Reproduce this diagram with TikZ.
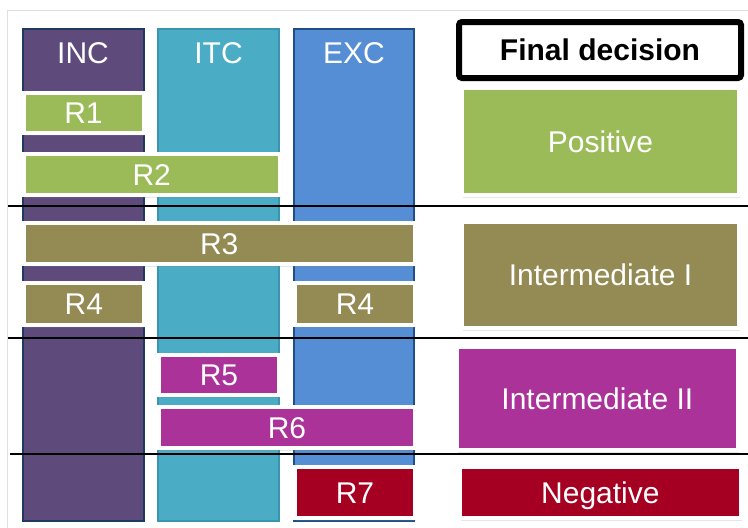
\documentclass[tikz,border=0pt]{standalone}
\usepackage{fontspec}
\setmainfont{Liberation Sans}
\usepackage{tikz}
\usetikzlibrary{shadows}

\definecolor{incfill}{HTML}{5F4B7B}
\definecolor{incedge}{HTML}{1F3A60}
\definecolor{itcfill}{HTML}{4BACC6}
\definecolor{itcedge}{HTML}{3A95AE}
\definecolor{excfill}{HTML}{558ED5}
\definecolor{excedge}{HTML}{1F4E89}
\definecolor{posgreen}{HTML}{9BBB59}
\definecolor{midolive}{HTML}{948A54}
\definecolor{midpink}{HTML}{AA3299}
\definecolor{negred}{HTML}{A50021}

\begin{document}
\begin{tikzpicture}[
    x=1pt, y=-1pt,
    column/.style={
        rectangle,
        line width=2pt,
        anchor=north west,
        inner sep=0pt,
        minimum height=492pt
    },
    colhead/.style={
        anchor=base,
        text=white,
        font=\fontsize{30pt}{32pt}\selectfont
    },
    rbox/.style={
        rectangle,
        draw=white,
        line width=4pt,
        anchor=north west,
        inner sep=0pt,
        text=white,
        text height=21.5pt,
        text depth=0pt,
        font=\fontsize{30pt}{32pt}\selectfont,
        drop shadow={shadow xshift=1pt, shadow yshift=-3pt, opacity=0.2}
    },
    divider/.style={
        line width=2.5pt,
        black
    }
]

% Frame
\useasboundingbox (0,0) rectangle (748,528);
\draw[gray!25, line width=1pt] (7,528) -- (7,10) -- (748,10);

% Columns
\node[column, draw=incedge, fill=incfill, minimum width=121pt] (inc) at (21.5,28) {};
\node[column, draw=itcedge, fill=itcfill, minimum width=121pt] (itc) at (157,28) {};
\node[column, draw=excedge, fill=excfill, minimum width=120pt] (exc) at (293,28) {};

\node[colhead] (inchead) at ([yshift=-35pt]inc.north) {INC};
\node[colhead] (itchead) at ([yshift=-35pt]itc.north) {ITC};
\node[colhead] (exchead) at ([yshift=-35pt]exc.north) {EXC};

% Rules
\node[rbox, fill=posgreen, minimum width=120pt, minimum height=40.5pt] (r1) at (21.5,90.5) {R1};
\node[rbox, fill=posgreen, minimum width=256.5pt, minimum height=41pt] (r2) at (21.5,152) {R2};
\node[rbox, fill=midolive, minimum width=390.5pt, minimum height=40.5pt] (r3) at (22,221) {R3};
\node[rbox, fill=midolive, minimum width=119.7pt, minimum height=41.5pt] (r4a) at (22,281) {R4};
\node[rbox, fill=midolive, minimum width=120pt, minimum height=41.5pt] (r4b) at (293,281) {R4};
\node[rbox, fill=midpink, minimum width=120pt, minimum height=40.5pt] (r5) at (157,352.5) {R5};
\node[rbox, fill=midpink, minimum width=256pt, minimum height=41pt] (r6) at (157,405) {R6};
\node[rbox, fill=negred, minimum width=120pt, minimum height=51.3pt] (r7) at (293,464.7) {R7};

% Final decision
\node[rectangle, draw=black, line width=6pt, rounded corners=3pt, fill=white,
      anchor=north west, inner sep=0pt, minimum width=282pt, minimum height=56pt,
      text height=21.5pt, text depth=0pt,
      font=\fontsize{30pt}{32pt}\selectfont\bfseries] (final) at (456,19) {Final decision};
\node[rbox, fill=posgreen, minimum width=277pt, minimum height=106.2pt] (positive) at (460,86.3) {Positive};
\node[rbox, fill=midolive, minimum width=277pt, minimum height=105.5pt] (interone) at (460,220) {Intermediate I};
\node[rbox, fill=midpink, minimum width=281.3pt, minimum height=103.8pt] (intertwo) at (454.7,344.5) {Intermediate II};
\node[rbox, fill=negred, minimum width=280.8pt, minimum height=51.1pt] (negative) at (458,464.7) {Negative};

% Dividers
\draw[divider] (8,206) -- (748,206);
\draw[divider] (8,338) -- (748,338);
\draw[divider] (10,454) -- (748,454);

\end{tikzpicture}
\end{document}
